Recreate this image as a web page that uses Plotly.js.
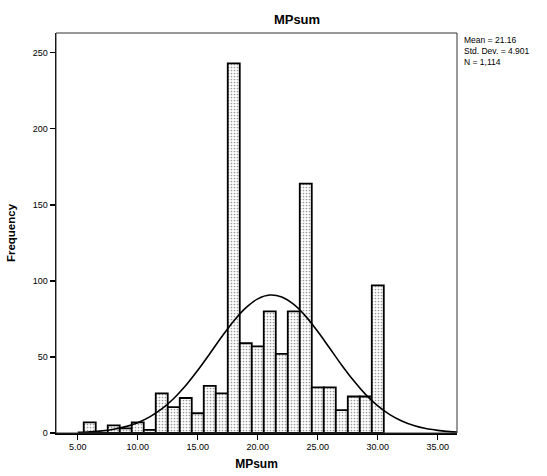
<!DOCTYPE html>
<html>
<head>
<meta charset="utf-8">
<script src="https://cdn.plot.ly/plotly-3.0.1.min.js"></script>
<style>html,body{margin:0;padding:0;background:#fff;}#chart{width:547px;height:476px;}</style>
</head>
<body>
<div id="chart"></div>
<script>
// Histogram bins (MPsum score) and frequencies
const binCenters = [6, 7, 8, 9, 10, 11, 12, 13, 14, 15, 16, 17, 18, 19, 20, 21, 22, 23, 24, 25, 26, 27, 28, 29, 30];
const frequencies = [7, 0, 5, 3, 7, 2, 26, 17, 23, 13, 31, 26, 243, 59, 57, 80, 52, 80, 164, 30, 30, 15, 24, 24, 97];

// Fitted normal curve
const curveX = [5, 6, 7, 8, 9, 10, 11, 12, 13, 14, 15, 16, 17, 18, 19, 20, 21, 22, 23, 24, 25, 26, 27, 28, 29, 30, 31, 32, 33, 34, 35, 36, 36.6];
const curveY = [0.4, 0.8, 1.4, 2.5, 4.2, 6.8, 10.6, 15.8, 22.7, 31.2, 41.2, 52.1, 63.3, 73.7, 82.3, 88.2, 90.7, 89.4, 84.5, 76.7, 66.7, 55.7, 44.6, 34.3, 25.2, 17.8, 12.1, 7.9, 4.9, 2.9, 1.7, 0.9, 0.7];

const xTickVals = [5, 10, 15, 20, 25, 30, 35];
const xTickText = ["5.00", "10.00", "15.00", "20.00", "25.00", "30.00", "35.00"];
const yTickVals = [0, 50, 100, 150, 200, 250];
const yTickText = ["0", "50", "100", "150", "200", "250"];

const statLines = ["Mean = 21.16", "Std. Dev. = 4.901", "N = 1,114"];

const FONT = "Liberation Sans, Arial, sans-serif";

const bars = {
  type: "bar",
  x: binCenters,
  y: frequencies,
  width: 1,
  marker: {
    color: "#f4f4f4",
    line: { color: "#000", width: 1.8 },
    pattern: { shape: ".", fgcolor: "#9a9a9a", bgcolor: "#ffffff", size: 3, solidity: 0.25 }
  },
  hoverinfo: "x+y",
  showlegend: false
};

const curve = {
  type: "scatter",
  mode: "lines",
  x: curveX,
  y: curveY,
  line: { color: "#000", width: 1.6, shape: "spline" },
  showlegend: false,
  hoverinfo: "skip"
};

const annotations = [{
  text: statLines.join("<br>"),
  xref: "paper", yref: "paper",
  x: 1.013, y: 1,
  xanchor: "left", yanchor: "top",
  align: "left",
  showarrow: false,
  font: { family: FONT, size: 8.5, color: "#000" }
}];

const layout = {
  width: 547,
  height: 476,
  margin: { l: 56, r: 90, t: 33, b: 43 },
  paper_bgcolor: "#fff",
  plot_bgcolor: "#fff",
  font: { family: FONT, color: "#000" },
  title: {
    text: "<b>MPsum</b>",
    font: { family: FONT, size: 13, color: "#000" },
    x: 297 / 547, xanchor: "center",
    y: 1 - 19 / 476, yanchor: "middle"
  },
  bargap: 0,
  xaxis: {
    range: [3.19, 36.6],
    tickmode: "array",
    tickvals: xTickVals,
    ticktext: xTickText,
    ticks: "outside",
    ticklen: 5,
    tickwidth: 1.3,
    tickcolor: "#000",
    showgrid: false,
    zeroline: false,
    showline: true,
    linecolor: "#000",
    linewidth: 1.5,
    tickfont: { family: FONT, size: 9, color: "#000" },
    title: { text: "<b>MPsum</b>", font: { family: FONT, size: 12, color: "#000" }, standoff: 8 }
  },
  yaxis: {
    range: [0, 263],
    tickmode: "array",
    tickvals: yTickVals,
    ticktext: yTickText,
    ticks: "outside",
    ticklen: 5,
    tickwidth: 1.3,
    tickcolor: "#000",
    showgrid: false,
    zeroline: false,
    showline: true,
    linecolor: "#000",
    linewidth: 1.5,
    tickfont: { family: FONT, size: 9, color: "#000" },
    title: { text: "<b>Frequency</b>", font: { family: FONT, size: 11.5, color: "#000" }, standoff: 14 }
  },
  shapes: [{
    type: "rect", xref: "paper", yref: "paper",
    x0: 0, x1: 1, y0: 0, y1: 1,
    line: { color: "#333", width: 1 },
    fillcolor: "rgba(0,0,0,0)",
    layer: "above"
  }],
  annotations: annotations
};

Plotly.newPlot("chart", [bars, curve], layout, { displayModeBar: false, staticPlot: true });
</script>
</body>
</html>
